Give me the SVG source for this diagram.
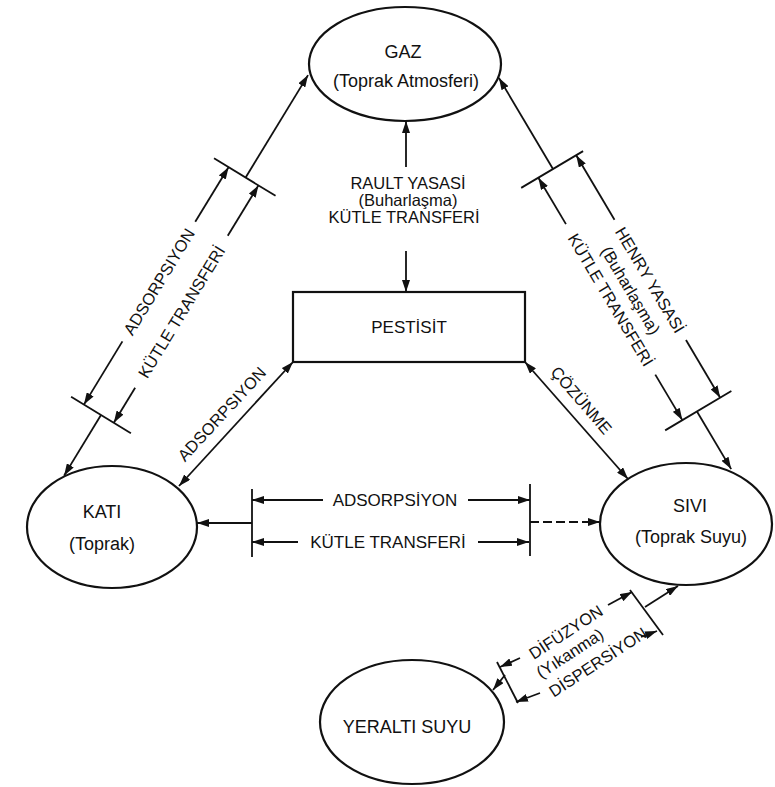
<svg xmlns="http://www.w3.org/2000/svg" width="775" height="787" viewBox="0 0 775 787">
<defs>
<marker id="ah" viewBox="0 0 12 8" refX="12" refY="4" markerWidth="12" markerHeight="8" markerUnits="userSpaceOnUse" orient="auto-start-reverse"><path d="M0,0 L12,4 L0,8 Z" fill="#111"/></marker>
</defs>
<style>
.node{fill:#fff;stroke:#111;stroke-width:2.2}
.ln{fill:none;stroke:#111;stroke-width:1.8}
.a{marker-end:url(#ah)}
.a2{marker-start:url(#ah);marker-end:url(#ah)}
.dash{stroke-dasharray:9 4}
text{font-family:"Liberation Sans",Arial,sans-serif;fill:#111;text-anchor:middle}
.nt{font-size:18px}
.lb{font-size:16.5px}
.lm{font-size:17px}
</style>
<rect width="775" height="787" fill="#fff"/>

<g id="gaz">
<ellipse class="node" cx="405" cy="64" rx="96" ry="57"/>
<text class="nt" x="403" y="58">GAZ</text>
<text class="nt" x="406" y="87">(Toprak Atmosferi)</text>
</g>

<g id="pestisit">
<rect class="node" x="293" y="292" width="232" height="70"/>
<text class="lm" x="409" y="333">PESTİSİT</text>
</g>

<g id="kati">
<ellipse class="node" cx="112" cy="527" rx="85" ry="61"/>
<text class="nt" x="102" y="518">KATI</text>
<text class="nt" x="102" y="550">(Toprak)</text>
</g>

<g id="sivi">
<ellipse class="node" cx="686" cy="524" rx="86" ry="61"/>
<text class="nt" x="690" y="512">SIVI</text>
<text class="nt" x="691" y="543">(Toprak Suyu)</text>
</g>

<g id="yeralti">
<ellipse class="node" cx="412" cy="722" rx="92" ry="62"/>
<text class="nt" x="407" y="733">YERALTI SUYU</text>
</g>

<g id="connectors">
<!-- GAZ - KATI -->
<g transform="translate(101,415) rotate(-58.65)">
<line class="ln a" x1="0" y1="0" x2="-71" y2="0"/>
<line class="ln a" x1="278" y1="0" x2="398" y2="0"/>
<line class="ln" x1="0" y1="-35" x2="0" y2="35"/>
<line class="ln" x1="278" y1="-37" x2="278" y2="35"/>
<line class="ln a" x1="74" y1="-20" x2="0" y2="-20"/>
<line class="ln a" x1="214" y1="-20" x2="278" y2="-20"/>
<line class="ln a" x1="41" y1="15" x2="0" y2="15"/>
<line class="ln a" x1="219" y1="15" x2="278" y2="15"/>
<text class="lb" x="144" y="-14">ADSORPSIYON</text>
<text class="lb" x="130" y="21">KÜTLE TRANSFERİ</text>
</g>

<!-- GAZ - SIVI -->
<g transform="translate(553,169) rotate(59.3)">
<line class="ln a" x1="0" y1="0" x2="-106" y2="0"/>
<line class="ln a" x1="282" y1="0" x2="349" y2="0"/>
<line class="ln" x1="0" y1="-35" x2="0" y2="37"/>
<line class="ln" x1="282" y1="-40" x2="282" y2="37"/>
<line class="ln a" x1="75" y1="-27" x2="0" y2="-27"/>
<line class="ln a" x1="215" y1="-27" x2="282" y2="-27"/>
<line class="ln a" x1="54" y1="17" x2="0" y2="17"/>
<line class="ln a" x1="229" y1="17" x2="282" y2="17"/>
<text class="lb" x="145" y="-21">HENRY YASASİ</text>
<text class="lb" x="144" y="1">(Buharlaşma)</text>
<text class="lb" x="142" y="23">KÜTLE TRANSFERİ</text>
</g>

<!-- GAZ - PESTISIT (Rault) -->
<line class="ln a" x1="406" y1="167" x2="406" y2="121"/>
<line class="ln a" x1="406" y1="251" x2="406" y2="292"/>
<text class="lb" x="408" y="189">RAULT YASASİ</text>
<text class="lb" x="408" y="206">(Buharlaşma)</text>
<text class="lb" x="404" y="223">KÜTLE TRANSFERİ</text>

<!-- KATI - SIVI -->
<line class="ln" x1="252" y1="489" x2="252" y2="557"/>
<line class="ln" x1="530" y1="484" x2="530" y2="556"/>
<line class="ln a" x1="323" y1="500" x2="252" y2="500"/>
<line class="ln a" x1="468" y1="500" x2="530" y2="500"/>
<line class="ln a" x1="298" y1="542" x2="252" y2="542"/>
<line class="ln a" x1="478" y1="542" x2="529" y2="542"/>
<line class="ln a" x1="252" y1="523" x2="197" y2="523"/>
<line class="ln a dash" x1="530" y1="522" x2="600" y2="522"/>
<text class="lm" x="395" y="506">ADSORPSİYON</text>
<text class="lm" x="388" y="548">KÜTLE TRANSFERİ</text>

<!-- KATI - PESTISIT -->
<line class="ln a2" x1="179" y1="486" x2="293" y2="362"/>
<text class="lb" transform="translate(226,418) rotate(-47.2)">ADSORPSIYON</text>

<!-- PESTISIT - SIVI -->
<line class="ln a2" x1="525" y1="362" x2="628" y2="479"/>
<text class="lb" transform="translate(577,404) rotate(49.2)">ÇÖZÜNME</text>

<!-- SIVI - YERALTI SUYU -->
<line class="ln" x1="630" y1="590" x2="663" y2="635"/>
<line class="ln" x1="497" y1="662" x2="518" y2="703"/>
<line class="ln a" x1="645" y1="607" x2="678" y2="586"/>
<line class="ln a" x1="505" y1="675" x2="493" y2="690"/>
<line class="ln a" x1="608" y1="605" x2="632" y2="592"/>
<line class="ln a" x1="520" y1="658" x2="500" y2="667"/>
<line class="ln a" x1="540" y1="693" x2="516" y2="702"/>
<line class="ln a" x1="641" y1="637" x2="657" y2="631"/>
<text class="lb" transform="translate(569,637) rotate(-33)">DİFÜZYON</text>
<text class="lb" transform="translate(573,658) rotate(-33)">(Yıkanma)</text>
<text class="lb" transform="translate(601,667) rotate(-33)">DİSPERSİYON</text>
</g>
</svg>
